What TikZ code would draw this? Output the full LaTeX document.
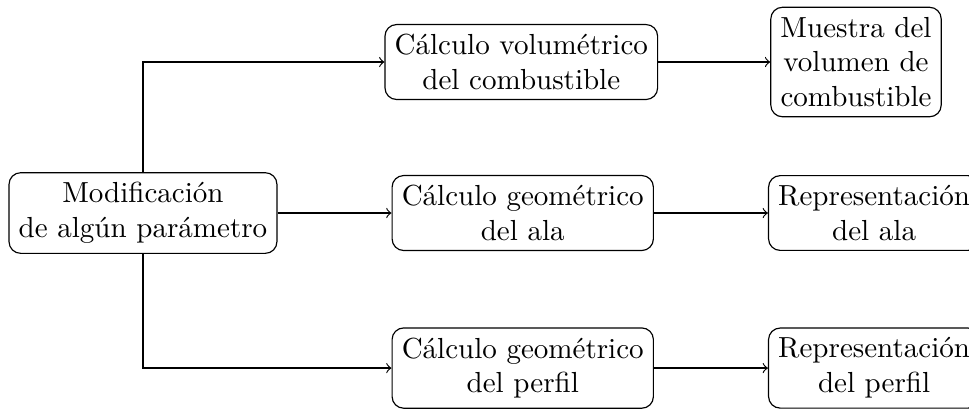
\documentclass[tikz,border=0pt]{standalone}
\usetikzlibrary{positioning}
\tikzset{
  box/.style={draw=black, rounded corners=4pt, align=center, inner sep=3.33pt},
  link/.style={->, line width=0.4pt}
}

\begin{document}
\begin{tikzpicture}
  \useasboundingbox (-1.731,-2.361) rectangle (10.0,2.579);

  \node[box] (param) at (0,0) {Modificación\\de algún parámetro};

  \node[box] (volcalc) at (4.58,1.828) {Cálculo volumétrico\\del combustible};
  \node[box, right=1.38cm of param] (alacalc) {Cálculo geométrico\\del ala};
  \node[box] (perfcalc) at (alacalc |- 0,-1.877) {Cálculo geométrico\\del perfil};

  \node[box] (volshow) at (8.632,1.828) {Muestra del\\volumen de\\combustible};
  \node[box, right=1.38cm of alacalc] (alashow) {Representación\\del ala};
  \node[box, right=1.38cm of perfcalc] (perfshow) {Representación\\del perfil};

  \draw[link] (param.north) |- (volcalc.west);
  \draw[link] (param) -- (alacalc);
  \draw[link] (param.south) |- (perfcalc.west);

  \draw[link] (volcalc) -- (volshow);
  \draw[link] (alacalc) -- (alashow);
  \draw[link] (perfcalc) -- (perfshow);
\end{tikzpicture}
\end{document}
